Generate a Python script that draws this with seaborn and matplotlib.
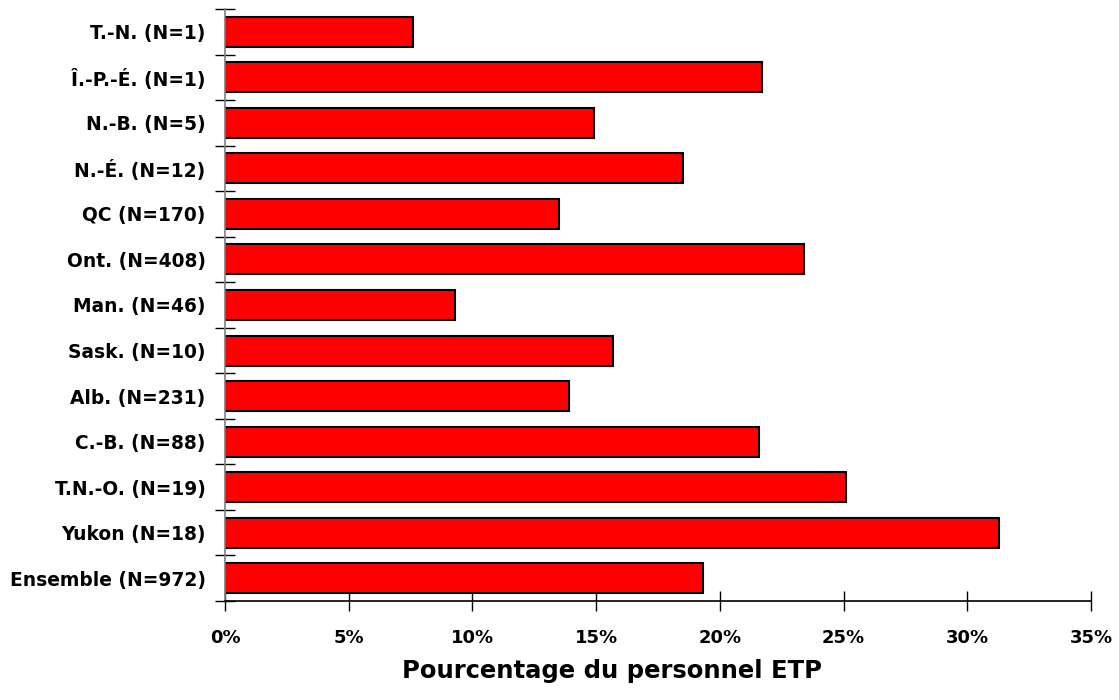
import numpy as np
import matplotlib
matplotlib.use("Agg")
import matplotlib.pyplot as plt
import seaborn as sns

# Categories (top to bottom) and percentage of FTE staff
labels = ["T.-N. (N=1)", "Î.-P.-É. (N=1)", "N.-B. (N=5)", "N.-É. (N=12)",
          "QC (N=170)", "Ont. (N=408)", "Man. (N=46)", "Sask. (N=10)",
          "Alb. (N=231)", "C.-B. (N=88)", "T.N.-O. (N=19)", "Yukon (N=18)",
          "Ensemble (N=972)"]
values = [7.6, 21.7, 14.9, 18.5, 13.5, 23.4, 9.3, 15.7, 13.9, 21.6, 25.1, 31.3, 19.3]
xticks = [0, 5, 10, 15, 20, 25, 30, 35]

sns.set_style("white")
plt.rcParams['font.family'] = ['DejaVu Sans']

fig = plt.figure(figsize=(11.19, 7), dpi=100)
ax = fig.add_axes([225 / 1119, 99 / 700, 866 / 1119, 592 / 700])

sns.barplot(x=values, y=labels, orient="h", color="#ff0000", saturation=1,
            edgecolor="black", linewidth=1.5, width=0.66, ax=ax)

ax.set_xlim(0, 35)
ax.set_ylim(len(labels) - 0.5, -0.5)

ax.set_xticks(xticks)
ax.set_xticklabels([f"{t}%" for t in xticks], fontsize=13, fontweight="bold", color="black")
ax.tick_params(axis="x", bottom=True, direction="inout", length=15, width=1,
               pad=13, color="black")

ax.set_yticks(np.arange(len(labels)))
ax.set_yticklabels(labels, fontsize=13.4, fontweight="bold", color="black")
ax.set_yticks(np.arange(len(labels) + 1) - 0.5, minor=True)
ax.tick_params(axis="y", which="major", left=False, length=0, pad=14)
ax.tick_params(axis="y", which="minor", left=True, direction="inout", length=15,
               width=1, color="black")

for s in ["top", "right"]:
    ax.spines[s].set_visible(False)
ax.spines["left"].set_color("#808080")
ax.spines["left"].set_linewidth(1.2)
ax.spines["bottom"].set_color("black")
ax.spines["bottom"].set_linewidth(1.2)

ax.set_ylabel("")
ax.set_xlabel("Pourcentage du personnel ETP", fontsize=17.5, fontweight="bold", color="black")
ax.xaxis.set_label_coords(0.447, -0.098)

fig.savefig("out.png", dpi=100, facecolor="white")
